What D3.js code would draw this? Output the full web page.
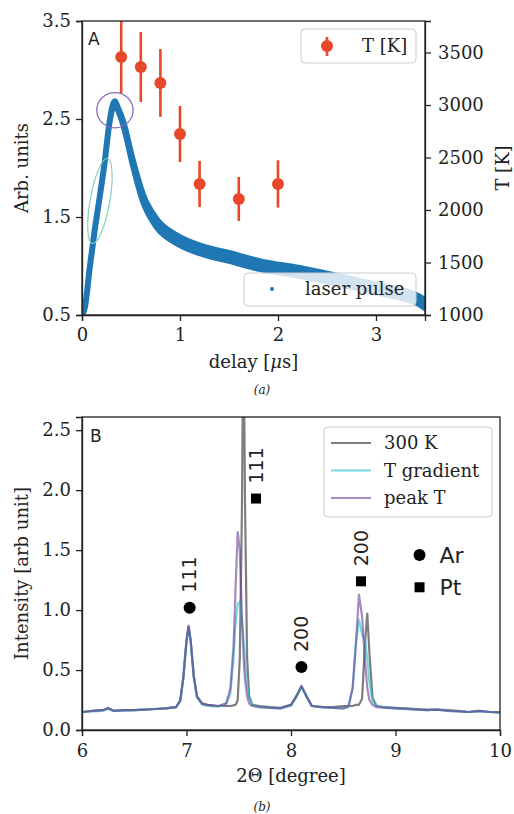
<!DOCTYPE html>
<html><head><meta charset="utf-8">
<script src="https://cdn.jsdelivr.net/npm/d3@7"></script>
<style>body{margin:0;background:#fff} text{fill:#222}</style>
</head><body>
<svg id="c" width="514" height="814"></svg>
<script>
// ---------------- Panel A data ----------------
const laserDelay  = [0.00, 0.03, 0.08, 0.13, 0.18, 0.23, 0.28, 0.31, 0.335, 0.36, 0.42, 0.52, 0.62, 0.76, 0.97, 1.23, 1.51, 1.81, 2.22, 2.60, 3.00, 3.44, 3.50];
const laserSignal = [0.50, 0.58, 0.99, 1.37, 1.70, 2.05, 2.46, 2.62, 2.67, 2.62, 2.46, 2.05, 1.70, 1.44, 1.27, 1.16, 1.09, 1.01, 0.94, 0.86, 0.77, 0.65, 0.61];
const laserSpread = [0.00, 0.00, 0.00, 0.00, 0.00, 0.00, 0.00, 0.01, 0.01, 0.01, 0.015, 0.025, 0.035, 0.04, 0.04, 0.04, 0.04, 0.04, 0.04, 0.04, 0.04, 0.04, 0.04];
const tempDelay = [0.4, 0.6, 0.8, 1.0, 1.2, 1.6, 2.0];
const tempValue = [3457, 3362, 3210, 2724, 2248, 2105, 2248];
const tempError = [345, 333, 323, 267, 220, 210, 225];
const delayTicks = [0, 1, 2, 3];
const arbTicks = [0.5, 1.5, 2.5, 3.5];
const tempTicks = [1000, 1500, 2000, 2500, 3000, 3500];

// ---------------- Panel B data ----------------
const twoTheta = [6.00,6.10,6.20,6.25,6.30,6.40,6.50,6.60,6.70,6.80,6.90,6.94,6.97,7.00,7.02,7.04,7.07,7.10,7.15,7.20,7.30,7.38,7.42,7.45,7.47,7.49,7.51,7.53,7.54,7.55,7.56,7.58,7.60,7.63,7.70,7.80,7.90,8.00,8.05,8.10,8.15,8.20,8.30,8.40,8.50,8.55,8.59,8.62,8.65,8.68,8.71,8.73,8.75,8.78,8.82,8.90,9.00,9.10,9.20,9.30,9.40,9.50,9.60,9.70,9.80,9.90,10.00];
const int300K    = [.15,.16,.165,.18,.16,.165,.165,.17,.175,.18,.19,.24,.43,.74,.86,.74,.44,.28,.22,.21,.20,.20,.20,.205,.21,.25,.60,1.80,2.90,2.90,1.90,.60,.28,.21,.20,.19,.185,.21,.28,.36,.28,.20,.19,.19,.20,.20,.20,.21,.21,.26,.75,.97,.65,.27,.20,.19,.185,.18,.175,.17,.17,.165,.16,.15,.16,.15,.145];
const intGradient= [.15,.155,.16,.175,.16,.16,.165,.17,.175,.18,.19,.24,.44,.74,.86,.74,.44,.27,.21,.20,.195,.22,.30,.60,.90,1.05,1.07,.92,.82,.70,.55,.38,.27,.21,.19,.185,.18,.20,.27,.36,.27,.20,.19,.185,.18,.19,.35,.72,.92,.80,.74,.60,.40,.24,.20,.19,.18,.175,.17,.165,.17,.16,.155,.15,.155,.15,.145];
const intPeakT   = [.15,.16,.165,.185,.16,.165,.165,.17,.175,.18,.19,.25,.45,.75,.87,.75,.45,.28,.22,.21,.20,.22,.35,.70,1.20,1.65,1.50,.95,.75,.55,.42,.28,.22,.20,.19,.185,.18,.21,.28,.37,.28,.20,.19,.185,.18,.20,.35,.70,1.13,.95,.55,.35,.25,.21,.19,.185,.18,.175,.17,.165,.17,.16,.155,.15,.16,.15,.15];
const seriesNames = ["300 K", "T gradient", "peak T"];
const reflPhase = ["Ar", "Pt", "Ar", "Pt"];
const reflLabel = ["111", "111", "200", "200"];
const reflTheta = [7.03, 7.665, 8.10, 8.67];
const reflInt   = [1.02, 1.93, 0.525, 1.24];
const thetaTicks = [6, 7, 8, 9, 10];
const intTicks = [0, 0.5, 1.0, 1.5, 2.0, 2.5];

const svg = d3.select("#c");
const SERIF = "DejaVu Serif", SANS = "DejaVu Sans";
const FS = 18;

function styleAxis(g){
  g.selectAll("path").attr("stroke","#222").attr("stroke-width",1.3);
  g.selectAll("line").attr("stroke","#222").attr("stroke-width",1.3);
  g.selectAll("text").attr("font-family",SERIF).attr("font-size",FS).attr("fill","#222");
}

// ================= Panel A =================
const A = {l:82, r:425, t:21, b:315};
const xA = d3.scaleLinear().domain([0,3.5]).range([A.l,A.r]);
const yA = d3.scaleLinear().domain([0.5,3.5]).range([A.b,A.t]);
const yT = d3.scaleLinear().domain([1000,3800]).range([A.b,A.t]);

svg.append("clipPath").attr("id","clipA").append("rect")
  .attr("x",A.l).attr("y",A.t).attr("width",A.r-A.l).attr("height",A.b-A.t);

const gA = svg.append("g").attr("clip-path","url(#clipA)");
const laser = laserDelay.map((d,i)=>({t:d, v:laserSignal[i], s:laserSpread[i]}));
gA.append("path").datum(laser)
  .attr("d", d3.area().x(d=>xA(d.t)).y0(d=>yA(d.v-d.s)).y1(d=>yA(d.v+d.s)).curve(d3.curveMonotoneX))
  .attr("fill","#1f77b4").attr("stroke","#1f77b4").attr("stroke-width",6).attr("stroke-linejoin","round");

// ellipses (annotations)
const teal = {t:0.183, v:1.663, w:0.20, h:0.88, ang:10};
gA.append("ellipse")
  .attr("transform",`translate(${xA(teal.t)},${yA(teal.v)}) rotate(${teal.ang})`)
  .attr("rx",(xA(teal.w)-xA(0))/2).attr("ry",(yA(0.5)-yA(0.5+teal.h))/2)
  .attr("fill","none").attr("stroke","#86cfc1").attr("stroke-width",1.2);
const circ = {t:0.336, v:2.59, w:0.37, h:0.36};
gA.append("ellipse")
  .attr("cx",xA(circ.t)).attr("cy",yA(circ.v))
  .attr("rx",(xA(circ.w)-xA(0))/2).attr("ry",(yA(0.5)-yA(0.5+circ.h))/2)
  .attr("fill","none").attr("stroke","#8d6bbd").attr("stroke-width",1.3);

// laser legend (below T data)
const lgL = svg.append("g");
lgL.append("rect").attr("x",244).attr("y",273).attr("width",172).attr("height",33).attr("rx",4)
  .attr("fill","#fff").attr("fill-opacity",0.8).attr("stroke","#ccc").attr("stroke-width",1);
lgL.append("circle").attr("cx",272).attr("cy",289).attr("r",2).attr("fill","#1f77b4");
lgL.append("text").attr("x",305).attr("y",295).attr("font-family",SERIF).attr("font-size",FS).text("laser pulse");

// temperature error bars
const temps = tempDelay.map((d,i)=>({t:d, T:tempValue[i], e:tempError[i]}));
const RED = "#e8482a";
gA.selectAll(".eb").data(temps).enter().append("line")
  .attr("x1",d=>xA(d.t)).attr("x2",d=>xA(d.t))
  .attr("y1",d=>yT(d.T-d.e)).attr("y2",d=>yT(d.T+d.e))
  .attr("stroke",RED).attr("stroke-width",2.6);
gA.selectAll(".pt").data(temps).enter().append("circle")
  .attr("cx",d=>xA(d.t)).attr("cy",d=>yT(d.T)).attr("r",6).attr("fill",RED);

// frame + axes
svg.append("rect").attr("x",A.l).attr("y",A.t).attr("width",A.r-A.l).attr("height",A.b-A.t)
  .attr("fill","none").attr("stroke","#222").attr("stroke-width",1.3);
svg.append("g").attr("transform",`translate(0,${A.b})`)
  .call(d3.axisBottom(xA).tickValues(delayTicks).tickFormat(d3.format("d")).tickSize(6).tickPadding(7)).call(styleAxis);
svg.append("g").attr("transform",`translate(${A.l},0)`)
  .call(d3.axisLeft(yA).tickValues(arbTicks).tickFormat(d3.format(".1f")).tickSize(6).tickPadding(5)).call(styleAxis);
svg.append("g").attr("transform",`translate(${A.r},0)`)
  .call(d3.axisRight(yT).tickValues(tempTicks).tickFormat(d3.format("d")).tickSize(6).tickPadding(7)).call(styleAxis);

// T legend
const lgT = svg.append("g");
lgT.append("rect").attr("x",301).attr("y",29).attr("width",115).attr("height",34).attr("rx",4)
  .attr("fill","#fff").attr("fill-opacity",0.8).attr("stroke","#ccc").attr("stroke-width",1);
lgT.append("line").attr("x1",327).attr("x2",327).attr("y1",37).attr("y2",56).attr("stroke",RED).attr("stroke-width",2.6);
lgT.append("circle").attr("cx",327).attr("cy",46).attr("r",6).attr("fill",RED);
lgT.append("text").attr("x",362).attr("y",52).attr("font-family",SERIF).attr("font-size",FS).text("T [K]");

svg.append("text").attr("x",88).attr("y",45).attr("font-family",SANS).attr("font-size",17).text("A");
const xl = svg.append("text").attr("x",(A.l+A.r)/2).attr("y",368).attr("text-anchor","middle")
  .attr("font-family",SERIF).attr("font-size",FS);
xl.append("tspan").text("delay [");
xl.append("tspan").attr("font-style","italic").text("μ");
xl.append("tspan").text("s]");
svg.append("text").attr("transform",`translate(28,${(A.t+A.b)/2}) rotate(-90)`).attr("text-anchor","middle")
  .attr("font-family",SERIF).attr("font-size",FS).text("Arb. units");
svg.append("text").attr("transform",`translate(509,${(A.t+A.b)/2}) rotate(-90)`).attr("text-anchor","middle")
  .attr("font-family",SERIF).attr("font-size",FS).text("T [K]");
svg.append("text").attr("x",262).attr("y",394).attr("text-anchor","middle")
  .attr("font-family",SERIF).attr("font-style","italic").attr("font-size",12).text("(a)");

// ================= Panel B =================
const B = {l:82, r:500, t:417, b:730};
const xB = d3.scaleLinear().domain([6,10]).range([B.l,B.r]);
const yB = d3.scaleLinear().domain([0,2.61]).range([B.b,B.t]);
svg.append("clipPath").attr("id","clipB").append("rect")
  .attr("x",B.l).attr("y",B.t).attr("width",B.r-B.l).attr("height",B.b-B.t);
const gB = svg.append("g").attr("clip-path","url(#clipB)");
const series = [int300K, intGradient, intPeakT];
const colors = ["#707070", "#2cc3c8", "#6a3d9a"];
const alphas = [0.9, 0.65, 0.6];
const lineB = d3.line().x(d=>xB(d[0])).y(d=>yB(d[1]));
series.forEach((s,k)=>{
  gB.append("path").datum(twoTheta.map((x,i)=>[x,s[i]]))
    .attr("d",lineB).attr("fill","none").attr("stroke",colors[k]).attr("stroke-opacity",alphas[k])
    .attr("stroke-width",2.2).attr("stroke-linejoin","round");
});

// reflections
reflTheta.forEach((x,i)=>{
  const px = xB(x), py = yB(reflInt[i]);
  if (reflPhase[i]==="Ar") svg.append("circle").attr("cx",px).attr("cy",py).attr("r",6).attr("fill","#000");
  else svg.append("rect").attr("x",px-5).attr("y",py-5).attr("width",10).attr("height",10).attr("fill","#000");
  svg.append("text").attr("transform",`translate(${px},${py-15}) rotate(-90)`).attr("dy","0.36em")
    .attr("font-family",SANS).attr("font-size",19).attr("fill","#111").text(reflLabel[i]);
});
// phase key
const keyTheta = 9.23, keyInt = [1.46, 1.19], keyPhase = ["Ar","Pt"];
keyPhase.forEach((p,i)=>{
  const px = xB(keyTheta), py = yB(keyInt[i]);
  if (p==="Ar") svg.append("circle").attr("cx",px).attr("cy",py).attr("r",6).attr("fill","#000");
  else svg.append("rect").attr("x",px-5).attr("y",py-5).attr("width",10).attr("height",10).attr("fill","#000");
  svg.append("text").attr("x",px+20).attr("y",py).attr("dy","0.36em")
    .attr("font-family",SANS).attr("font-size",22).attr("fill","#111").text(p);
});

svg.append("rect").attr("x",B.l).attr("y",B.t).attr("width",B.r-B.l).attr("height",B.b-B.t)
  .attr("fill","none").attr("stroke","#222").attr("stroke-width",1.3);
svg.append("g").attr("transform",`translate(0,${B.b})`)
  .call(d3.axisBottom(xB).tickValues(thetaTicks).tickFormat(d3.format("d")).tickSize(6).tickPadding(8)).call(styleAxis);
svg.append("g").attr("transform",`translate(${B.l},0)`)
  .call(d3.axisLeft(yB).tickValues(intTicks).tickFormat(d3.format(".1f")).tickSize(6).tickPadding(5)).call(styleAxis);

// legend B
const lgB = svg.append("g");
lgB.append("rect").attr("x",324).attr("y",427).attr("width",168).attr("height",90).attr("rx",4)
  .attr("fill","#fff").attr("fill-opacity",0.8).attr("stroke","#ccc").attr("stroke-width",1);
seriesNames.forEach((n,k)=>{
  const y = 443 + k*27.5;
  lgB.append("line").attr("x1",331).attr("x2",371).attr("y1",y).attr("y2",y)
    .attr("stroke",colors[k]).attr("stroke-opacity",alphas[k]).attr("stroke-width",2.2);
  lgB.append("text").attr("x",384).attr("y",y+6).attr("font-family",SERIF).attr("font-size",FS).text(n);
});

svg.append("text").attr("x",90).attr("y",442).attr("font-family",SANS).attr("font-size",17).text("B");
svg.append("text").attr("x",(B.l+B.r)/2).attr("y",782).attr("text-anchor","middle")
  .attr("font-family",SERIF).attr("font-size",FS).text("2Θ [degree]");
svg.append("text").attr("transform",`translate(28,${(B.t+B.b)/2}) rotate(-90)`).attr("text-anchor","middle")
  .attr("font-family",SERIF).attr("font-size",FS).text("Intensity [arb unit]");
svg.append("text").attr("x",262).attr("y",811).attr("text-anchor","middle")
  .attr("font-family",SERIF).attr("font-style","italic").attr("font-size",12).text("(b)");
</script>
</body></html>
